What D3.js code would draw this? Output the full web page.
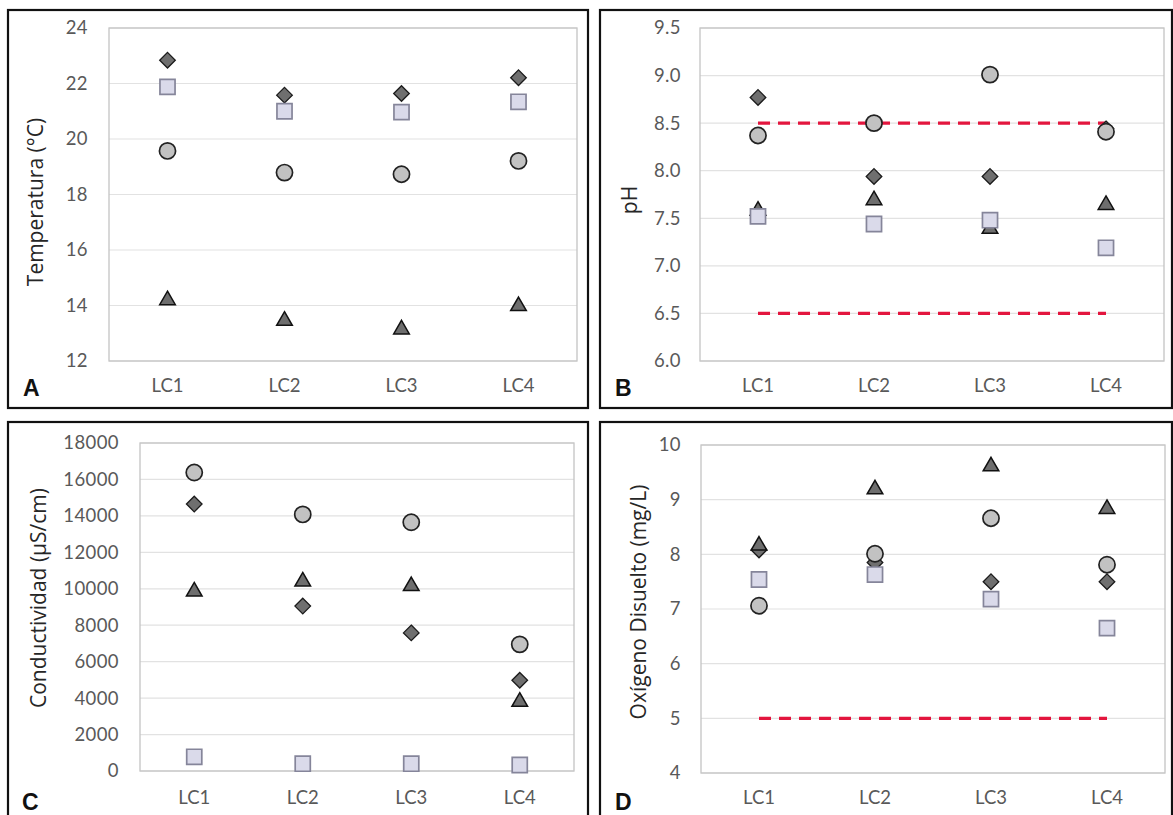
<!DOCTYPE html>
<html>
<head>
<meta charset="utf-8">
<script src="https://cdn.jsdelivr.net/npm/d3@7"></script>
<style>
  html, body { margin: 0; padding: 0; background: #fff; }
  svg { display: block; }
  text { font-family: Lato, "Open Sans", sans-serif; }
</style>
</head>
<body>
<svg id="fig" width="1173" height="815"></svg>
<script>
// Sampling sites
const categories = ["LC1", "LC2", "LC3", "LC4"];

// A – Temperatura (°C)
const tempDiamond  = [22.84, 21.58, 21.64, 22.21];
const tempSquare   = [21.88, 21.00, 20.97, 21.34];
const tempCircle   = [19.57, 18.79, 18.73, 19.21];
const tempTriangle = [14.19, 13.45, 13.14, 13.98];
const tempTicks    = [12, 14, 16, 18, 20, 22, 24];

// B – pH
const phDiamond  = [8.77, 7.94, 7.94, 8.44];
const phSquare   = [7.52, 7.44, 7.48, 7.19];
const phCircle   = [8.37, 8.50, 9.01, 8.41];
const phTriangle = [7.58, 7.69, 7.39, 7.64];
const phLimits   = [6.5, 8.5];
const phTicks    = [6.0, 6.5, 7.0, 7.5, 8.0, 8.5, 9.0, 9.5];

// C – Conductividad (µS/cm)
const condDiamond  = [14650, 9050, 7580, 4980];
const condSquare   = [780, 400, 400, 330];
const condCircle   = [16380, 14080, 13650, 6950];
const condTriangle = [9850, 10400, 10150, 3800];
const condTicks    = [0, 2000, 4000, 6000, 8000, 10000, 12000, 14000, 16000, 18000];

// D – Oxígeno Disuelto (mg/L)
const doDiamond  = [8.08, 7.85, 7.50, 7.50];
const doSquare   = [7.54, 7.63, 7.18, 6.65];
const doCircle   = [7.06, 8.01, 8.66, 7.81];
const doTriangle = [8.16, 9.19, 9.61, 8.83];
const doLimits   = [5];
const doTicks    = [4, 5, 6, 7, 8, 9, 10];

const svg = d3.select("#fig");

// marker styles (drawn in this order so later ones sit on top)
const markerStyles = [
  { key: "diamond",  sym: d3.symbolDiamond2,  size: 155, fill: "#6f6f6f", stroke: "#1a1a1a", sw: 1.3 },
  { key: "triangle", sym: d3.symbolTriangle2, size: 175, fill: "#6e6e6e", stroke: "#111",    sw: 1.5 },
  { key: "square",   sym: d3.symbolSquare2,   size: 290, fill: "#dadaea", stroke: "#85859a", sw: 1.7 },
  { key: "circle",   sym: d3.symbolCircle,    size: 205, fill: "#c2c2c2", stroke: "#222",    sw: 1.7 }
];

const tickFont = "Lato, sans-serif";

function panel(cfg) {
  const g = svg.append("g");

  // panel frame
  g.append("rect")
    .attr("x", cfg.frame[0]).attr("y", cfg.frame[1])
    .attr("width", cfg.frame[2]).attr("height", cfg.frame[3])
    .attr("fill", "#fff").attr("stroke", "#111").attr("stroke-width", 2.2);

  const [x0, x1, y0, y1] = cfg.plot; // left, right, top, bottom
  const x = d3.scaleBand().domain(categories).range([x0, x1]).padding(0);
  const y = d3.scaleLinear().domain(cfg.domain).range([y1, y0]);
  const cx = c => x(c) + x.bandwidth() / 2;

  // horizontal gridlines
  g.append("g").selectAll("line").data(cfg.ticks).join("line")
    .attr("x1", x0).attr("x2", x1)
    .attr("y1", d => y(d)).attr("y2", d => y(d))
    .attr("stroke", "#e2e2e2").attr("stroke-width", 1.2);

  // plot area outline
  g.append("rect")
    .attr("x", x0).attr("y", y0).attr("width", x1 - x0).attr("height", y1 - y0)
    .attr("fill", "none").attr("stroke", "#c4c4c4").attr("stroke-width", 1.3);

  // y axis labels
  const yAxis = d3.axisLeft(y).tickValues(cfg.ticks).tickFormat(cfg.fmt).tickSize(0).tickPadding(cfg.tickPad);
  const ya = g.append("g").attr("transform", `translate(${x0},0)`).call(yAxis);
  ya.select(".domain").remove();
  ya.selectAll("text").attr("font-size", 18.5).attr("fill", "#595959")
    .style("font-family", tickFont).style("letter-spacing", "0.4px");

  // x axis labels
  const xAxis = d3.axisBottom(x).tickSize(0).tickPadding(cfg.xPad);
  const xa = g.append("g").attr("transform", `translate(0,${y1})`).call(xAxis);
  xa.select(".domain").remove();
  xa.selectAll("text").attr("font-size", 18.5).attr("fill", "#595959")
    .style("font-family", tickFont);

  // reference limits (dashed red)
  (cfg.limits || []).forEach(v => {
    g.append("line")
      .attr("x1", cx(categories[0])).attr("x2", cx(categories[categories.length - 1]))
      .attr("y1", y(v)).attr("y2", y(v))
      .attr("stroke", "#e3163e").attr("stroke-width", 3.2)
      .attr("stroke-dasharray", "12,8");
  });

  // series markers
  markerStyles.forEach(ms => {
    const vals = cfg.series[ms.key];
    const shape = d3.symbol().type(ms.sym).size(ms.size);
    g.append("g").selectAll("path").data(categories.map((c, i) => ({ c, v: vals[i] }))).join("path")
      .attr("d", shape)
      .attr("transform", d => `translate(${cx(d.c)},${y(d.v)})`)
      .attr("fill", ms.fill).attr("stroke", ms.stroke).attr("stroke-width", ms.sw);
  });

  // y title
  g.append("text")
    .attr("transform", `translate(${cfg.titlePos[0]},${cfg.titlePos[1]}) rotate(-90)`)
    .attr("text-anchor", "middle").attr("dominant-baseline", "central")
    .attr("font-size", 21).attr("fill", "#262626")
    .style("font-family", "'Open Sans', sans-serif")
    .text(cfg.title);

  // panel letter
  g.append("text")
    .attr("x", cfg.letterPos[0]).attr("y", cfg.letterPos[1])
    .attr("font-size", 23).attr("font-weight", "bold").attr("fill", "#111")
    .style("font-family", "'Liberation Sans', Arial, sans-serif")
    .text(cfg.letter);
}

panel({
  frame: [8, 10, 580, 398], plot: [109, 577, 28, 361],
  domain: [12, 24], ticks: tempTicks, fmt: d3.format("d"), tickPad: 21, xPad: 18,
  series: { diamond: tempDiamond, square: tempSquare, circle: tempCircle, triangle: tempTriangle },
  title: "Temperatura (°C)", titlePos: [35, 202], letter: "A", letterPos: [23, 396]
});

panel({
  frame: [600, 10, 572, 398], plot: [700, 1164, 28, 361],
  domain: [6.0, 9.5], ticks: phTicks, fmt: d3.format(".1f"), tickPad: 19, xPad: 18,
  series: { diamond: phDiamond, square: phSquare, circle: phCircle, triangle: phTriangle },
  limits: phLimits,
  title: "pH", titlePos: [629, 200], letter: "B", letterPos: [615, 396]
});

panel({
  frame: [8, 422, 580, 402], plot: [140, 574, 443, 771],
  domain: [0, 18000], ticks: condTicks, fmt: d3.format("d"), tickPad: 21, xPad: 20,
  series: { diamond: condDiamond, square: condSquare, circle: condCircle, triangle: condTriangle },
  title: "Conductividad (µS/cm)", titlePos: [38, 598], letter: "C", letterPos: [22, 810]
});

panel({
  frame: [600, 422, 572, 402], plot: [701, 1165, 445, 773],
  domain: [4, 10], ticks: doTicks, fmt: d3.format("d"), tickPad: 20, xPad: 18,
  series: { diamond: doDiamond, square: doSquare, circle: doCircle, triangle: doTriangle },
  limits: doLimits,
  title: "Oxígeno Disuelto (mg/L)", titlePos: [638, 602], letter: "D", letterPos: [615, 810]
});
</script>
</body>
</html>
